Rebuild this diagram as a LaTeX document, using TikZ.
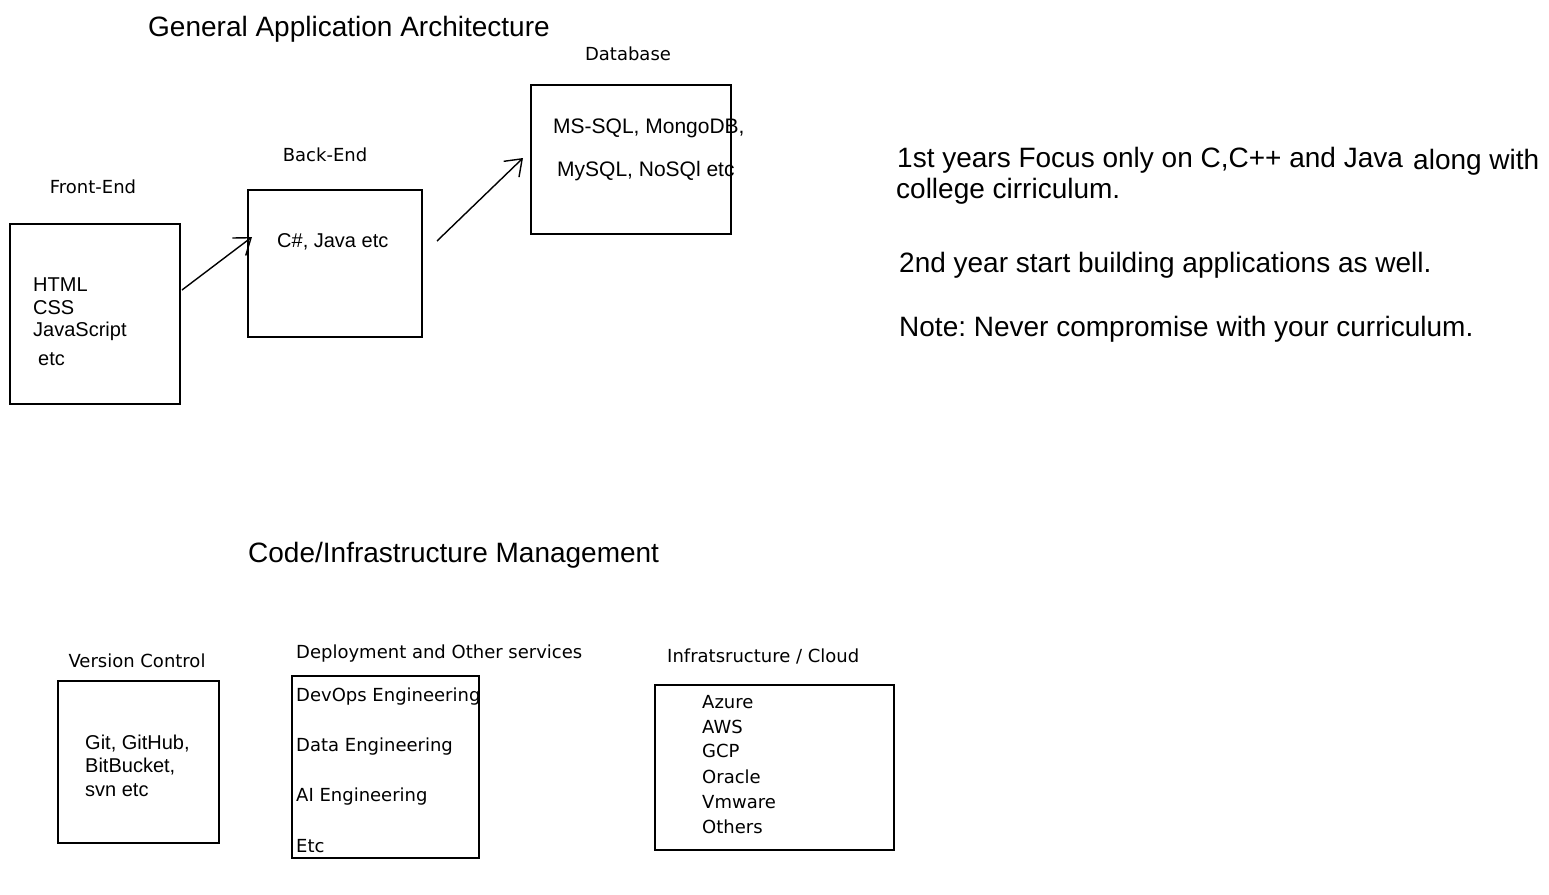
\documentclass[tikz,border=0pt]{standalone}
\usepackage{fontspec}
\setmainfont{Liberation Sans}
\newfontfamily\handfont{DejaVu Sans}
\usetikzlibrary{arrows.meta}
\frenchspacing
\tikzset{
  box/.style={draw=black, line width=1.4pt, inner sep=0pt, fill=none},
  big/.style={inner sep=0pt, anchor=west, font=\frenchspacing\fontsize{28}{32}\selectfont},
  body/.style={inner sep=0pt, anchor=west, font=\fontsize{20}{24}\selectfont},
  hand/.style={inner sep=0pt, font=\handfont\fontsize{18}{22}\selectfont},
  handw/.style={hand, anchor=west},
  sketcharrow/.style={line width=1.4pt, -{Straight Barb[length=15pt,width=22pt,line width=1.4pt]}}
}
\begin{document}
\begin{tikzpicture}[x=1pt,y=-1pt]
\useasboundingbox[fill=white] (0,0) rectangle (1549,894);

% titles
\node[big] (t1) at (148,29) {General Application Architecture};
\node[big] (t2) at (248,555) {Code/Infrastructure Management};

% architecture boxes
\node[box, minimum width=170pt, minimum height=180pt] (fe) at (95,314) {};
\node[box, minimum width=174pt, minimum height=147pt] (be) at (335,263.5) {};
\node[box, minimum width=200pt, minimum height=149pt] (db) at (631,159.5) {};

\node[hand] (lfe) at (93,187) {Front-End};
\node[hand] (lbe) at (325,155) {Back-End};
\node[hand] (ldb) at (628,54) {Database};

\node[body] (fe1) at (33,285) {HTML};
\node[body] (fe2) at (33,308) {CSS};
\node[body] (fe3) at (33,331) {JavaScript};
\node[body] (fe4) at (38,359) {etc};

\node[body] (be1) at (277,242) {C\#, Java etc};

\node[body, font=\fontsize{21}{24}\selectfont] (db1) at (553,128) {MS-SQL, MongoDB,};
\node[body, font=\fontsize{21}{24}\selectfont] (db2) at (557,171) {MySQL, NoSQl etc};

% arrows
\coordinate (a1s) at (182,290);
\coordinate (a1e) at (252,237);
\coordinate (a2s) at (437,241);
\coordinate (a2e) at (523,158);
\draw[sketcharrow] (a1s) -- (a1e);
\draw[sketcharrow] (a2s) -- (a2e);

% notes
\node[big] (n1) at (897,160) {1st years Focus only on C,C++ and Java};
\node[big] (n2) at (1413,162) {along with};
\node[big] (n3) at (896,191) {college cirriculum.};
\node[big] (n4) at (899,265) {2nd year start building applications as well.};
\node[big] (n5) at (899,329) {Note: Never compromise with your curriculum.};

% management boxes
\node[box, minimum width=161pt, minimum height=162pt] (vc) at (138.5,762) {};
\node[box, minimum width=187pt, minimum height=182pt] (dep) at (385.5,767) {};
\node[box, minimum width=239pt, minimum height=165pt] (cl) at (774.5,767.5) {};

\node[hand] (lvc) at (137,661) {Version Control};
\node[handw] (ldep) at (296,654) {Deployment and Other services};
\node[handw] (lcl) at (667,656) {Infratsructure / Cloud};

\node[body] (vc1) at (85,744) {Git, GitHub,};
\node[body] (vc2) at (85,767) {BitBucket,};
\node[body] (vc3) at (85,790) {svn etc};

\node[handw] (d1) at (296,697) {DevOps Engineering};
\node[handw] (d2) at (296,747) {Data Engineering};
\node[handw] (d3) at (296,797) {AI Engineering};
\node[handw] (d4) at (296,846) {Etc};

\node[handw] (c1) at (702,702) {Azure};
\node[handw] (c2) at (702,727) {AWS};
\node[handw] (c3) at (702,751) {GCP};
\node[handw] (c4) at (702,777) {Oracle};
\node[handw] (c5) at (702,802) {Vmware};
\node[handw] (c6) at (702,827) {Others};
\end{tikzpicture}
\end{document}
